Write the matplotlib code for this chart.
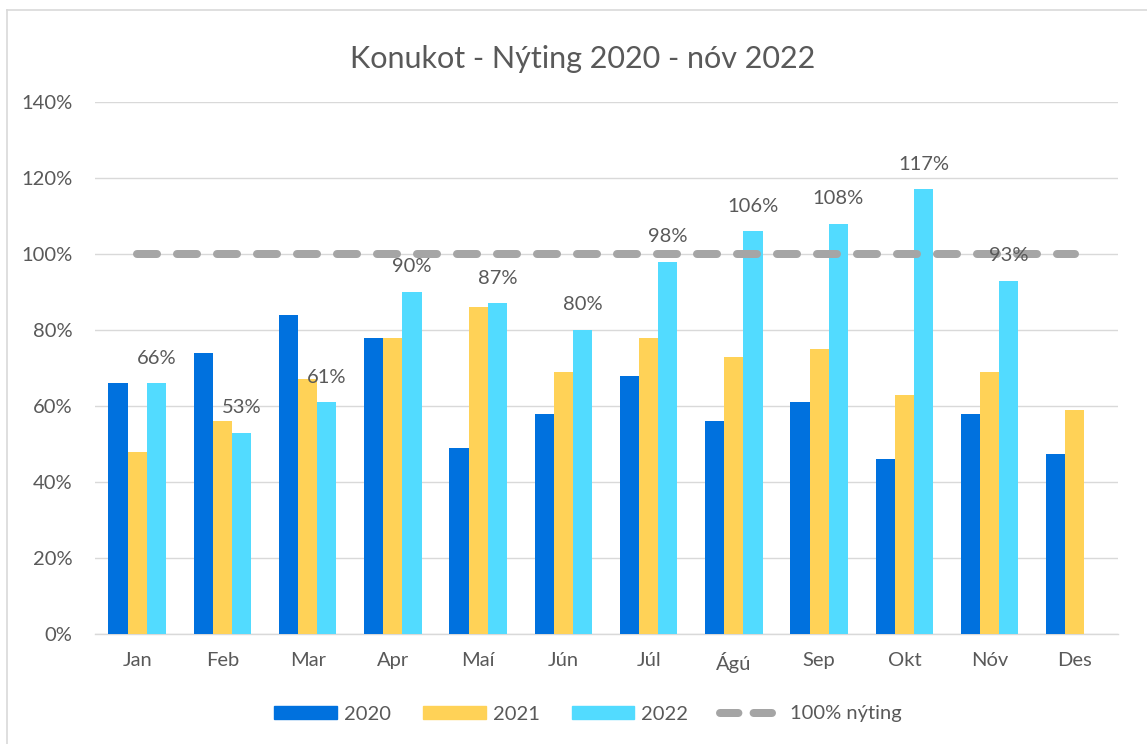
import matplotlib
matplotlib.use("Agg")
import matplotlib.pyplot as plt
import numpy as np
from matplotlib.lines import Line2D
from matplotlib.patches import Patch

months = ["Jan", "Feb", "Mar", "Apr", "Maí", "Jún", "Júl", "Ágú", "Sep", "Okt", "Nóv", "Des"]
y2020 = [0.66, 0.74, 0.84, 0.78, 0.49, 0.58, 0.68, 0.56, 0.61, 0.46, 0.58, 0.475]
y2021 = [0.48, 0.56, 0.67, 0.78, 0.86, 0.69, 0.78, 0.73, 0.75, 0.63, 0.69, 0.59]
y2022 = [0.66, 0.53, 0.61, 0.90, 0.87, 0.80, 0.98, 1.06, 1.08, 1.17, 0.93, None]
target = [1.0] * 12
yticks = [0, 0.2, 0.4, 0.6, 0.8, 1.0, 1.2, 1.4]

C2020 = "#0071DE"
C2021 = "#FFD257"
C2022 = "#52DBFF"
CGRAY = "#A5A5A5"
TXT = "#595959"
FONT = "Lato"
FS = 14.5

plt.rcParams["font.family"] = [FONT, "DejaVu Sans"]

W, H = 1147, 744
fig = plt.figure(figsize=(W / 100, H / 100), dpi=100)
ax = fig.add_axes([94.5 / W, 1 - 634 / H, (1117.5 - 94.5) / W, (634 - 102) / H])

x = np.arange(len(months))
bw = 0.225
ax.bar(x - bw, y2020, bw, color=C2020, zorder=3)
ax.bar(x, y2021, bw, color=C2021, zorder=3)
v22 = [v if v is not None else 0 for v in y2022]
ax.bar(x + bw, v22, bw, color=C2022, zorder=3)
for xi, v in zip(x, y2022):
    if v is None:
        continue
    ax.annotate(f"{round(v * 100):.0f}%", (xi + bw, v), xytext=(0, 18),
                textcoords="offset points", ha="center", va="center",
                fontsize=FS, color=TXT, zorder=5)

lw = 8 * 72 / 100
ax.plot(x, target, color=CGRAY, lw=lw, linestyle=(0, (2.5, 2.5)),
        dash_capstyle="round", zorder=4)

ax.set_xlim(-0.5, 11.5)
ax.set_ylim(0, 1.4)
ax.set_yticks(yticks)
ax.set_yticklabels([f"{int(round(t * 100))}%" for t in yticks])
ax.set_xticks(x)
ax.set_xticklabels(months)
ax.tick_params(axis="y", length=0, pad=16, labelsize=FS, labelcolor=TXT)
ax.tick_params(axis="x", length=0, pad=13, labelsize=FS, labelcolor=TXT)
ax.grid(axis="y", color="#D9D9D9", lw=1, zorder=0)
for s in ["left", "right", "top"]:
    ax.spines[s].set_visible(False)
ax.spines["bottom"].set_color("#D9D9D9")
ax.spines["bottom"].set_linewidth(1)

fig.text(583 / W, 1 - 68 / H, "Konukot - Nýting 2020 - nóv 2022", ha="center",
         va="baseline", fontsize=22, color=TXT)

handles = [Patch(color=C2020, label="2020"), Patch(color=C2021, label="2021"),
           Patch(color=C2022, label="2022"),
           Line2D([0], [0], color=CGRAY, lw=lw, linestyle=(0, (2.3, 1.9)),
                  dash_capstyle="round", label="100% nýting")]
fig.legend(handles=handles, loc="center", bbox_to_anchor=(588 / W, 1 - 714 / H),
           ncol=4, frameon=False, fontsize=FS, handlelength=3.1,
           handleheight=0.65, handletextpad=0.35, columnspacing=1.6,
           labelcolor=TXT)

# chart frame (top and left edges)
fig.add_artist(Line2D([7 / W, 7 / W], [0, 1 - 10 / H], transform=fig.transFigure,
                      color="#D9D9D9", lw=1.2))
fig.add_artist(Line2D([7 / W, 1], [1 - 10 / H, 1 - 10 / H], transform=fig.transFigure,
                      color="#D9D9D9", lw=1.2))

fig.savefig("out.png", dpi=100)
